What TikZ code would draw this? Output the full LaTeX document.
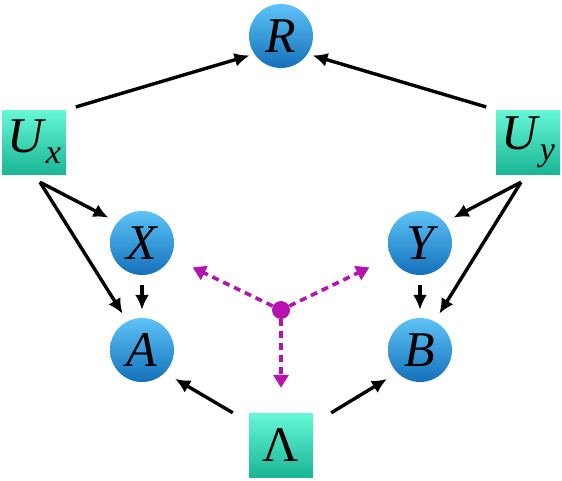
\documentclass[tikz,border=0pt]{standalone}
\usepackage{fontspec}
\setmainfont{Liberation Serif}
\usetikzlibrary{arrows.meta}
\definecolor{NodeTop}{HTML}{5EC3F8}
\definecolor{NodeBottom}{HTML}{1470BA}
\definecolor{BoxTop}{HTML}{66F7D6}
\definecolor{BoxBottom}{HTML}{1AB696}
\definecolor{LinkMagenta}{HTML}{B512B0}

\begin{document}
\begin{tikzpicture}[x=1pt,y=-1pt,
    var/.style={circle, minimum size=64pt, inner sep=0pt,
      top color=NodeTop, bottom color=NodeBottom,
      font=\fontsize{50}{50}\selectfont\itshape},
    hidden/.style={rectangle, minimum size=64pt, inner sep=0pt,
      top color=BoxTop, bottom color=BoxBottom,
      font=\fontsize{50}{50}\selectfont},
    arr/.style={line width=3.4pt, -{Latex[length=15pt,width=14pt]}},
    corr/.style={LinkMagenta, line width=3.6pt, dash pattern=on 7pt off 5pt,
      -{Triangle[length=13pt,width=15pt]}}
  ]
  \useasboundingbox (0,0) rectangle (562,480);

  % variables
  \node[var] (R) at (281,36) {R};
  \node[var] (X) at (142,243) {X};
  \node[var] (Y) at (420,243) {Y};
  \node[var] (A) at (142,350) {A};
  \node[var] (B) at (420,350) {B};

  % hidden sources
  \node[hidden] (Ux) at (34,142) {\textit{U}\raisebox{-11pt}{\fontsize{34}{34}\selectfont\itshape x}};
  \node[hidden] (Uy) at (528,142) {\textit{U}\raisebox{-11pt}{\fontsize{34}{34}\selectfont\itshape y}};
  \node[hidden] (L) at (281,445) {Λ};

  \draw[arr, shorten <=10pt, shorten >=5pt] (Ux.north east) -- (R.214);
  \draw[arr, shorten <=10pt, shorten >=5pt] (Uy.north west) -- (R.326);
  \draw[arr, shorten >=10pt] ([shift={(6pt,-8pt)}]Ux.south) -- (X.140);
  \draw[arr, shorten >=9pt] ([shift={(6pt,-8pt)}]Ux.south) -- (A.117);
  \draw[arr, shorten >=10pt] ([shift={(-7pt,-8pt)}]Uy.south) -- (Y.40);
  \draw[arr, shorten >=9pt] ([shift={(-7pt,-8pt)}]Uy.south) -- (B.63);
  \draw[arr, shorten <=10pt, shorten >=8pt] (X) -- (A);
  \draw[arr, shorten <=10pt, shorten >=8pt] (Y) -- (B);
  \draw[arr, shorten >=12pt] ([xshift=-16pt]L.north west) -- (A.-45);
  \draw[arr, shorten >=12pt] ([xshift=18pt]L.north east) -- (B.225);

  % common cause
  \node[circle, fill=LinkMagenta, minimum size=18pt, inner sep=0pt] (c) at (281,310) {};
  \draw[corr, shorten >=24pt] (c) -- (X);
  \draw[corr, shorten >=24pt] (c) -- (Y);
  \draw[corr, shorten >=25pt] (c) -- (L);
\end{tikzpicture}
\end{document}
